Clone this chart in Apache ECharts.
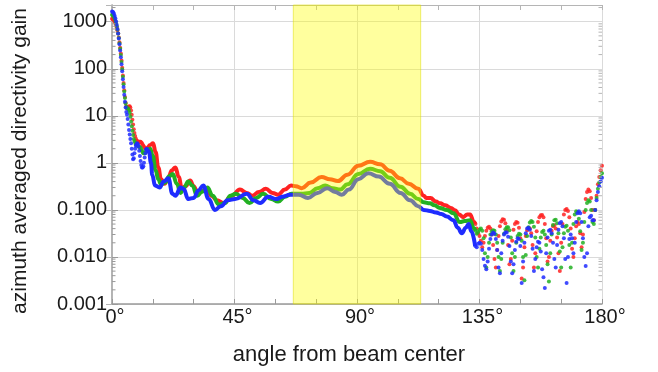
<!DOCTYPE html>
<html>
<head>
<meta charset="utf-8">
<script src="https://cdn.jsdelivr.net/npm/echarts@6/dist/echarts.min.js"></script>
<style>html,body{margin:0;padding:0;background:#fff;}#c{width:658px;height:372px;}</style>
</head>
<body>
<div id="c"></div>
<script>
// ---- data ----
const xTickLabels = ['0°', '45°', '90°', '135°', '180°'];
const yTickLabels = ['0.001', '0.010', '0.100', '1', '10', '100', '1000'];
const xTitle = 'angle from beam center';
const yTitle = 'azimuth averaged directivity gain';
const bandRange = [66.6, 113.4];

// main lobe / first side lobes (sampled points)
const redStart = [[0,1150],[0.25,1140],[0.5,1110],[0.75,1060],[1,1000],[1.25,930],[1.5,850],[1.75,760],[2,660],[2.25,560],[2.5,460],[2.75,365],[3,280],[3.25,210],[3.5,150],[3.75,105],[4,72],[4.25,50],[4.5,35],[4.75,25],[5,19],[5.25,16],[5.5,14.5],[5.75,14.5],[6,15],[6.25,15.8],[6.5,16],[6.75,15],[7,13],[7.25,10.5],[7.5,8.2],[7.75,6.5],[8,5.2],[8.25,4.3],[8.5,3.7],[8.75,3.3],[9,3.0],[9.25,2.9],[9.5,2.8],[9.75,2.8],[10,2.8],[10.25,2.8],[10.5,2.8],[10.75,2.7],[11,2.6],[11.25,2.45],[11.5,2.3],[11.75,2.2],[12,2.1]];
const greenStart = [[0,1400],[0.25,1380],[0.5,1330],[0.75,1250],[1,1150],[1.25,1040],[1.5,920],[1.75,800],[2,680],[2.25,560],[2.5,450],[2.75,350],[3,265],[3.25,195],[3.5,140],[3.75,98],[4,68],[4.25,47],[4.5,33],[4.75,24],[5,18.5],[5.25,15.5],[5.5,14.5],[5.75,14.5],[6,14],[6.25,13],[6.5,11.5],[6.75,9.5],[7,7.5],[7.25,6],[7.5,4.8],[7.75,3.9],[8,3.2],[8.25,2.9],[8.5,2.7],[8.75,2.5],[9,2.4],[9.25,2.35],[9.5,2.3],[9.75,2.25],[10,2.2],[10.25,2.15],[10.5,2.1],[10.75,1.95],[11,1.8],[11.25,1.7],[11.5,1.6],[11.75,1.6],[12,1.6]];
const blueStart = [[0,1650],[0.25,1630],[0.5,1560],[0.75,1450],[1,1320],[1.25,1170],[1.5,1010],[1.75,850],[2,700],[2.25,560],[2.5,440],[2.75,330],[3,245],[3.25,175],[3.5,125],[3.75,88],[4,60],[4.25,41],[4.5,28],[4.75,20],[5,15],[5.25,12],[5.5,10.5],[5.75,8.5],[6,6.5],[6.25,5],[6.5,4],[6.75,3.2],[7,2.6],[7.25,2.0],[7.5,1.5],[7.75,1.2],[8,1.25],[8.25,1.6],[8.5,2.0],[8.75,2.3],[9,2.5],[9.25,2.6],[9.5,2.5],[9.75,2.2],[10,1.8],[10.25,1.4],[10.5,1.1],[10.75,0.9],[11,0.8],[11.25,0.8],[11.5,0.85],[11.75,1.0],[12,1.3],[12.25,1.6],[12.5,1.9],[12.75,2.0],[13,1.9]];

// continuous middle part (peaks / troughs)
const redMid = [[12,2.1],[12.7,2.0],[14,2.4],[15.1,2.6],[16,1.7],[17,0.8],[18,0.45],[19.3,0.36],[20.5,0.45],[22,0.7],[23.3,0.8],[24.5,0.5],[25.7,0.28],[27,0.32],[28.7,0.42],[30,0.32],[31.5,0.23],[33,0.25],[34.7,0.28],[36.5,0.2],[38.5,0.16],[41,0.14],[44,0.2],[47,0.27],[49.5,0.23],[51.5,0.2],[54,0.24],[56.5,0.28],[59,0.23],[61,0.21],[63.5,0.27],[65.8,0.33],[67.5,0.32],[69.7,0.29],[73,0.38],[77,0.5],[80,0.45],[83,0.41],[86.5,0.56],[90.5,0.87],[94.8,1.05],[98.5,0.93],[102,0.68],[105.8,0.47],[109,0.36],[112.5,0.28],[114.5,0.2],[115.5,0.18],[117,0.178],[119,0.15],[120.5,0.138],[122.5,0.125],[124.5,0.11],[126,0.098],[127.5,0.08],[129,0.07],[130.5,0.08],[131.5,0.08],[133,0.055],[133.5,0.05]];
const greenMid = [[12,1.6],[13,1.8],[14,2.0],[15,1.4],[16,0.7],[17,0.45],[18,0.35],[19.5,0.38],[21,0.52],[22.3,0.58],[23.8,0.36],[25.2,0.23],[26.5,0.3],[28,0.4],[29.5,0.33],[31.3,0.2],[33,0.24],[35,0.3],[37,0.2],[39.2,0.13],[41.5,0.14],[43.5,0.2],[45.5,0.22],[48,0.18],[50.5,0.14],[53,0.18],[55.5,0.22],[58.5,0.17],[61,0.15],[63.5,0.19],[66,0.22],[69.5,0.22],[72.5,0.23],[75.5,0.29],[78.3,0.33],[81,0.29],[83.8,0.27],[86.5,0.35],[90.5,0.58],[94.8,0.75],[98.5,0.66],[102,0.48],[106,0.31],[109.5,0.22],[112.5,0.17],[114.5,0.145],[116.8,0.138],[118.5,0.125],[120.5,0.11],[123,0.1],[125.4,0.085],[127.8,0.055],[129.5,0.058],[131.5,0.06],[133,0.04],[133.5,0.036]];
const blueMid = [[13,1.9],[13.6,1.7],[14.3,1.0],[14.8,0.55],[15.8,0.33],[17.5,0.3],[19,0.4],[20.7,0.47],[22.2,0.22],[23.3,0.2],[25.2,0.3],[26.3,0.28],[28,0.17],[30,0.18],[31.8,0.26],[33.5,0.33],[35.5,0.17],[37.8,0.1],[40,0.12],[42.5,0.16],[45.2,0.17],[49.5,0.22],[52,0.16],[54.4,0.14],[57.4,0.19],[60.5,0.17],[62.5,0.19],[65.4,0.21],[68.5,0.21],[72,0.18],[75.5,0.23],[79,0.29],[82,0.24],[84.4,0.21],[87,0.27],[90.5,0.45],[94.2,0.6],[98,0.51],[102,0.36],[106,0.23],[109.5,0.16],[112.5,0.12],[114.5,0.1],[116.8,0.095],[119,0.088],[121,0.082],[123,0.072],[125.4,0.06],[127,0.042],[128.5,0.032],[130,0.042],[131,0.05],[132,0.035],[133.4,0.017]];

// far side lobes (sampled points)
const redEnd = [[133.5,0.05],[134,0.04],[134.5,0.032],[135,0.028],[135.5,0.022],[136,0.016],[136.5,0.02],[137,0.028],[137.5,0.036],[138,0.042],[138.5,0.044],[139,0.04],[139.5,0.03],[140,0.018],[140.5,0.009],[141,0.006],[141.5,0.014],[142,0.028],[142.5,0.045],[143,0.057],[143.5,0.063],[144,0.062],[144.5,0.052],[145,0.036],[145.5,0.018],[146,0.007],[146.5,0.009],[147,0.022],[147.5,0.038],[148,0.05],[148.5,0.055],[149,0.053],[149.5,0.042],[150,0.025],[150.5,0.0035],[151,0.006],[151.5,0.016],[152,0.028],[152.5,0.037],[153,0.041],[153.5,0.04],[154,0.032],[154.5,0.018],[155,0.006],[155.5,0.012],[156,0.035],[156.5,0.055],[157,0.07],[157.5,0.077],[158,0.078],[158.5,0.07],[159,0.05],[159.5,0.025],[160,0.008],[160.5,0.01],[161,0.022],[161.5,0.036],[162,0.045],[162.5,0.047],[163,0.04],[163.5,0.026],[164,0.012],[164.5,0.005],[165,0.02],[165.5,0.05],[166,0.08],[166.5,0.1],[167,0.105],[167.5,0.095],[168,0.07],[168.5,0.04],[169,0.015],[169.5,0.01],[170,0.025],[170.5,0.045],[171,0.055],[171.5,0.05],[172,0.032],[172.5,0.016],[173,0.03],[173.5,0.09],[174,0.17],[174.5,0.24],[175,0.27],[175.5,0.25],[176,0.18],[176.5,0.1],[177,0.06],[177.5,0.1],[178,0.2],[178.5,0.35],[179,0.5],[179.5,0.7],[180,0.87]];
const greenEnd = [[133.5,0.036],[134,0.031],[134.5,0.034],[135,0.038],[135.5,0.04],[136,0.036],[136.5,0.025],[137,0.012],[137.5,0.006],[138,0.01],[138.5,0.02],[139,0.03],[139.5,0.035],[140,0.037],[140.5,0.036],[141,0.03],[141.5,0.02],[142,0.01],[142.5,0.005],[143,0.009],[143.5,0.02],[144,0.031],[144.5,0.039],[145,0.043],[145.5,0.043],[146,0.037],[146.5,0.026],[147,0.012],[147.5,0.005],[148,0.01],[148.5,0.02],[149,0.028],[149.5,0.031],[150,0.03],[150.5,0.022],[151,0.01],[151.5,0.0032],[152,0.011],[152.5,0.028],[153,0.043],[153.5,0.054],[154,0.058],[154.5,0.055],[155,0.044],[155.5,0.026],[156,0.01],[156.5,0.006],[157,0.015],[157.5,0.026],[158,0.034],[158.5,0.036],[159,0.03],[159.5,0.018],[160,0.007],[160.5,0.003],[161,0.012],[161.5,0.03],[162,0.048],[162.5,0.06],[163,0.062],[163.5,0.052],[164,0.032],[164.5,0.013],[165,0.006],[165.5,0.016],[166,0.032],[166.5,0.044],[167,0.046],[167.5,0.036],[168,0.018],[168.5,0.006],[169,0.02],[169.5,0.05],[170,0.08],[170.5,0.094],[171,0.09],[171.5,0.065],[172,0.035],[172.5,0.014],[173,0.02],[173.5,0.055],[174,0.1],[174.5,0.14],[175,0.16],[175.5,0.15],[176,0.1],[176.5,0.055],[177,0.05],[177.5,0.1],[178,0.18],[178.5,0.28],[179,0.38],[179.5,0.5],[180,0.6]];
const blueEnd = [[133.5,0.017],[134,0.016],[134.5,0.019],[135,0.02],[135.5,0.019],[136,0.014],[136.5,0.009],[137,0.0065],[137.5,0.0055],[138,0.008],[138.5,0.015],[139,0.024],[139.5,0.03],[140,0.033],[140.5,0.031],[141,0.024],[141.5,0.014],[142,0.006],[142.5,0.0045],[143,0.012],[143.5,0.022],[144,0.03],[144.5,0.033],[145,0.033],[145.5,0.027],[146,0.017],[146.5,0.008],[147,0.0045],[147.5,0.007],[148,0.014],[148.5,0.021],[149,0.025],[149.5,0.024],[150,0.017],[150.5,0.0028],[151,0.008],[151.5,0.02],[152,0.032],[152.5,0.04],[153,0.042],[153.5,0.038],[154,0.028],[154.5,0.015],[155,0.005],[155.5,0.009],[156,0.016],[156.5,0.021],[157,0.02],[157.5,0.013],[158,0.0055],[158.5,0.0037],[159,0.0022],[159.5,0.012],[160,0.026],[160.5,0.036],[161,0.038],[161.5,0.032],[162,0.02],[162.5,0.009],[163,0.006],[163.5,0.018],[164,0.038],[164.5,0.052],[165,0.055],[165.5,0.045],[166,0.025],[166.5,0.009],[167,0.0028],[167.5,0.01],[168,0.024],[168.5,0.03],[169,0.025],[169.5,0.012],[170,0.02],[170.5,0.055],[171,0.085],[171.5,0.094],[172,0.085],[172.5,0.055],[173,0.025],[173.5,0.01],[174,0.0064],[174.5,0.012],[175,0.045],[175.5,0.07],[176,0.075],[176.5,0.06],[177,0.06],[177.5,0.1],[178,0.16],[178.5,0.24],[179,0.32],[179.5,0.4],[180,0.48]];

// ---- chart ----
const RED = '#ff2222', GREEN = '#22b022', BLUE = '#1e2cff';
const FONT = "'Liberation Sans', Arial, sans-serif";
const Y_MIN = 0.001, Y_MAX = 2265;

const minorTickVals = [];
for (let e = -3; e <= 3; e++) for (let m = 2; m <= 9; m++) {
  const v = m * Math.pow(10, e);
  if (v < Y_MAX) minorTickVals.push([0, v]);
}

function yLabel(v) {
  const l = Math.log10(v), r = Math.round(l);
  if (Math.abs(l - r) > 0.01) return '';
  return yTickLabels[r + 3] || '';
}

const chart = echarts.init(document.getElementById('c'), null, {renderer: 'canvas'});
const axisGray = '#9a9a9a';
const dotSeries = (data, color, z) => ({
  type: 'scatter', data, symbol: 'circle', symbolSize: 4, z,
  itemStyle: {color, opacity: 0.85}, silent: true, animation: false, yAxisIndex: 0, xAxisIndex: 0
});
const lineSeries = (data, color, z) => ({
  type: 'line', data, smooth: 0.45, smoothMonotone: 'x', showSymbol: false, z,
  lineStyle: {color, width: 4}, silent: true, animation: false, yAxisIndex: 0, xAxisIndex: 0
});

chart.setOption({
  animation: false,
  backgroundColor: '#fff',
  grid: {left: 112, right: 56, top: 5, bottom: 68, containLabel: false},
  graphic: [
    {type: 'text', x: 349, y: 355, silent: true,
      style: {text: xTitle, fontSize: 22, fill: '#1a1a1a', fontFamily: FONT, align: 'center', verticalAlign: 'middle'}},
    {type: 'text', x: 20, y: 161, rotation: Math.PI / 2, silent: true,
      style: {text: yTitle, fontSize: 21, fill: '#1a1a1a', fontFamily: FONT, align: 'center', verticalAlign: 'middle'}}
  ],
  xAxis: [{
    type: 'value', min: 0, max: 180, interval: 45, position: 'bottom',
    axisLine: {show: true, lineStyle: {color: axisGray, width: 1.5}},
    axisTick: {show: true, inside: true, length: 5, lineStyle: {color: axisGray}},
    minorTick: {show: true, splitNumber: 3, length: 5, lineStyle: {color: axisGray}},
    axisLabel: {fontSize: 20, color: '#1a1a1a', fontFamily: FONT, margin: 3, padding: [0, 0, 0, 6],
      formatter: v => xTickLabels[Math.round(v / 45)]},
    splitLine: {show: true, lineStyle: {color: '#dadada', width: 1}}
  }, {
    type: 'value', min: 0, max: 180, interval: 45, position: 'top',
    axisLine: {show: true, lineStyle: {color: '#b5b5b5', width: 1}},
    axisTick: {show: true, inside: true, length: 5, lineStyle: {color: '#b5b5b5'}},
    minorTick: {show: true, splitNumber: 3, length: 5, lineStyle: {color: '#b5b5b5'}},
    axisLabel: {show: false}, splitLine: {show: false}
  }],
  yAxis: [{
    type: 'log', logBase: 10, min: Y_MIN, max: Y_MAX, position: 'left',
    axisLine: {show: true, lineStyle: {color: axisGray, width: 1.5}},
    axisTick: {show: true, inside: true, length: 6, lineStyle: {color: axisGray}},
    axisLabel: {fontSize: 20, color: '#1a1a1a', fontFamily: FONT, margin: 5, formatter: yLabel, showMaxLabel: false},
    splitLine: {show: true, lineStyle: {color: '#dadada', width: 1}}
  }, {
    type: 'log', logBase: 10, min: Y_MIN, max: Y_MAX, position: 'right',
    axisLine: {show: true, lineStyle: {color: '#b5b5b5', width: 1}},
    axisTick: {show: true, inside: true, length: 6, lineStyle: {color: '#b5b5b5'}},
    axisLabel: {show: false}, splitLine: {show: false}
  }],
  series: [
    lineSeries(redMid, RED, 2),
    dotSeries(redStart, RED, 2),
    dotSeries(redEnd, RED, 2),
    lineSeries(greenMid, GREEN, 3),
    dotSeries(greenStart, GREEN, 3),
    dotSeries(greenEnd, GREEN, 3),
    lineSeries(blueMid, BLUE, 4),
    dotSeries(blueStart, BLUE, 4),
    dotSeries(blueEnd, BLUE, 4),
    {
      type: 'custom', data: minorTickVals, z: 6, silent: true, clip: false,
      renderItem: function (params, api) {
        const p = api.coord([0, api.value(1)]);
        const cs = params.coordSys;
        return {type: 'group', children: [
          {type: 'line', shape: {x1: cs.x, y1: p[1], x2: cs.x + 3.5, y2: p[1]}, style: {stroke: axisGray, lineWidth: 1}},
          {type: 'line', shape: {x1: cs.x + cs.width, y1: p[1], x2: cs.x + cs.width - 3.5, y2: p[1]}, style: {stroke: '#b5b5b5', lineWidth: 1}}
        ]};
      }
    },
    {
      type: 'line', data: [], z: 10, silent: true,
      markArea: {
        silent: true, z: 10,
        itemStyle: {color: 'rgba(255,255,0,0.38)', borderColor: 'rgba(220,220,0,0.5)', borderWidth: 1},
        data: [[{xAxis: bandRange[0]}, {xAxis: bandRange[1]}]]
      }
    }
  ]
});
</script>
</body>
</html>
